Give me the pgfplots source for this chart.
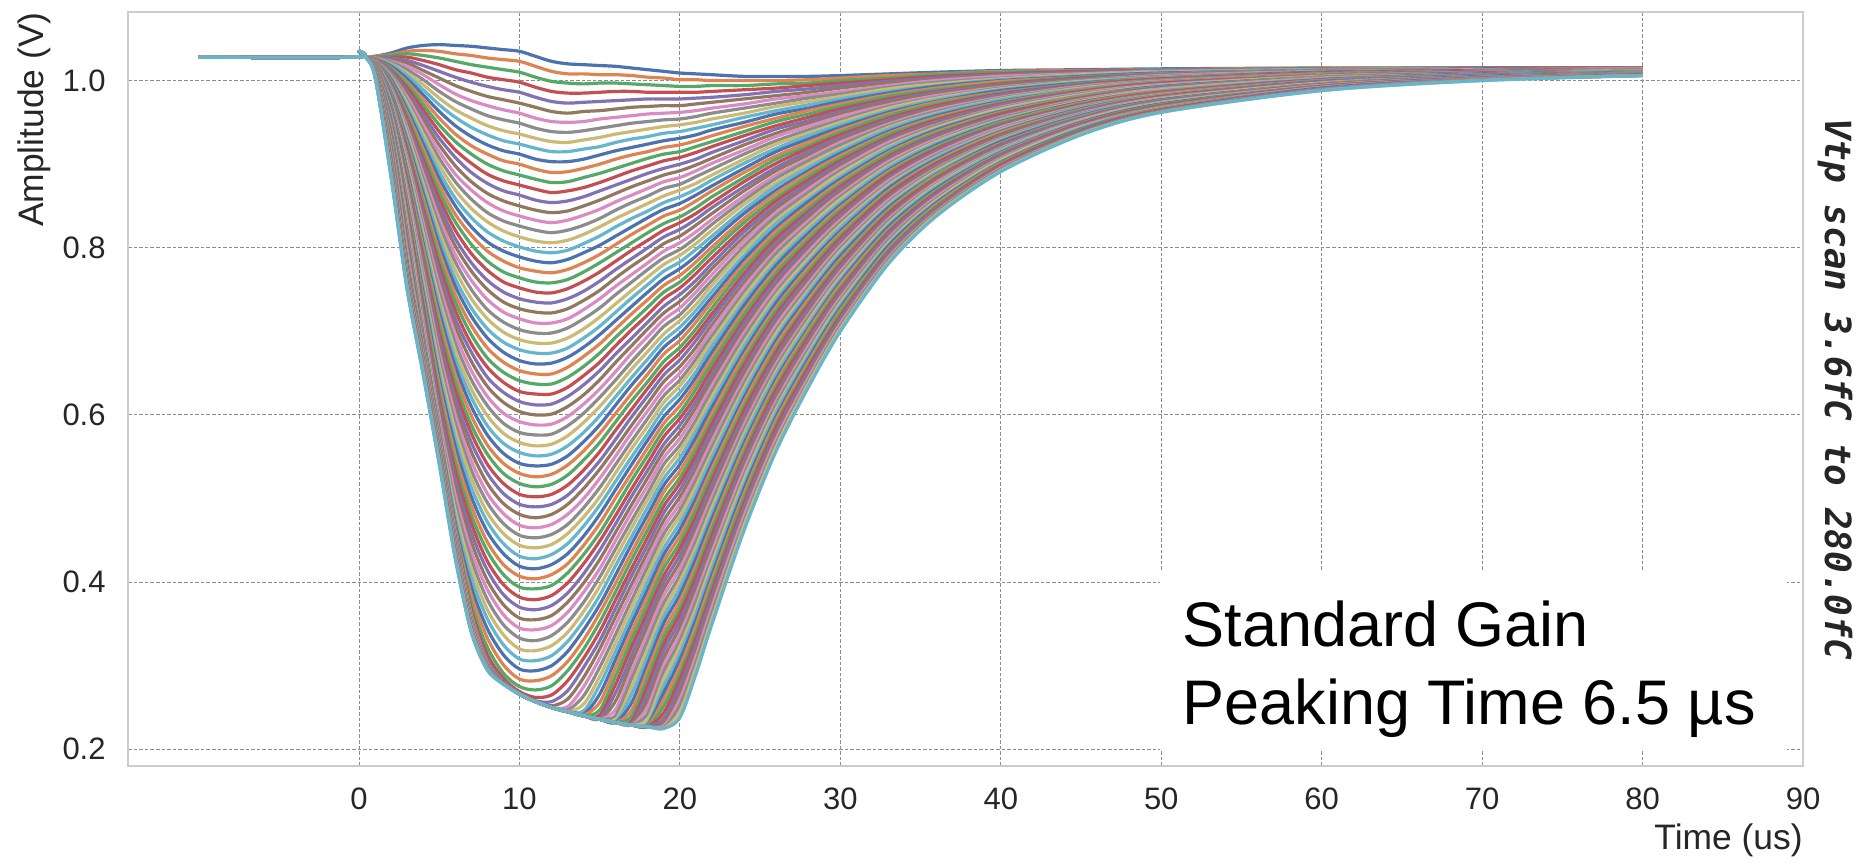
\documentclass[border=0pt]{standalone}
\usepackage{fontspec}
\setmainfont{Liberation Sans}
\setmonofont{DejaVu Sans Mono}
\usepackage{pgfplots}
\usepackage{pgfplotstable}
\pgfplotsset{compat=1.18}
\definecolor{c0}{RGB}{76,114,176}
\definecolor{c1}{RGB}{221,132,82}
\definecolor{c2}{RGB}{85,168,104}
\definecolor{c3}{RGB}{196,78,82}
\definecolor{c4}{RGB}{129,114,179}
\definecolor{c5}{RGB}{147,120,96}
\definecolor{c6}{RGB}{218,139,195}
\definecolor{c7}{RGB}{140,140,140}
\definecolor{c8}{RGB}{204,185,116}
\definecolor{c9}{RGB}{100,181,205}
\definecolor{tickgray}{RGB}{38,38,38}
\definecolor{gridgray}{RGB}{140,140,140}
\definecolor{framegray}{RGB}{204,204,204}
\begin{document}
% time (us) followed by 100 curves, amplitude in mV
\pgfplotstableread[header=false]{
-10 1028 1028 1028 1028 1028 1028 1028 1028 1028 1028  1028 1028 1028 1028 1028 1028 1028 1028 1028 1028  1028 1028 1028 1028 1028 1028 1028 1028 1028 1028  1028 1028 1028 1028 1028 1028 1028 1028 1028 1028  1028 1028 1028 1028 1028 1028 1028 1028 1028 1028  1028 1028 1028 1028 1028 1028 1028 1028 1028 1028  1028 1028 1028 1028 1028 1028 1028 1028 1028 1028  1028 1028 1028 1028 1028 1028 1028 1028 1028 1028  1028 1028 1028 1028 1028 1028 1028 1028 1028 1028  1028 1028 1028 1028 1028 1028 1028 1028 1028 1028
-0.3 1028 1028 1028 1028 1028 1028 1028 1028 1028 1028  1028 1028 1028 1028 1028 1028 1028 1028 1028 1028  1028 1028 1028 1028 1028 1028 1028 1028 1028 1028  1028 1028 1028 1028 1028 1028 1028 1028 1028 1028  1028 1028 1028 1028 1028 1028 1028 1028 1028 1028  1028 1028 1028 1028 1028 1028 1028 1028 1028 1028  1028 1028 1028 1028 1028 1028 1028 1028 1028 1028  1028 1028 1028 1028 1028 1028 1028 1028 1028 1028  1028 1028 1028 1028 1028 1028 1028 1028 1028 1028  1028 1028 1028 1028 1028 1028 1028 1028 1028 1028
0 1035 1035 1035 1035 1035 1035 1035 1035 1035 1035  1035 1035 1035 1035 1035 1035 1035 1035 1035 1035  1035 1035 1035 1035 1035 1035 1035 1035 1035 1035  1035 1035 1035 1035 1035 1035 1035 1035 1035 1035  1035 1035 1035 1035 1035 1035 1035 1035 1035 1035  1035 1035 1035 1035 1035 1035 1035 1035 1035 1035  1035 1035 1035 1035 1035 1035 1035 1035 1035 1035  1035 1035 1035 1035 1035 1035 1035 1035 1035 1035  1035 1035 1035 1035 1035 1035 1035 1035 1035 1035  1035 1035 1035 1035 1035 1035 1035 1035 1035 1035
0.4 1028 1028 1028 1028 1028 1028 1028 1028 1028 1028  1028 1028 1028 1028 1028 1028 1028 1028 1028 1028  1028 1028 1028 1028 1028 1028 1028 1028 1028 1028  1028 1028 1028 1028 1028 1028 1028 1028 1028 1028  1028 1028 1028 1028 1028 1028 1028 1028 1028 1028  1028 1028 1028 1028 1028 1028 1028 1028 1028 1028  1028 1028 1028 1028 1028 1028 1028 1028 1028 1028  1028 1028 1028 1028 1028 1028 1028 1028 1028 1028  1028 1028 1028 1028 1028 1028 1028 1028 1028 1028  1028 1028 1028 1028 1028 1028 1028 1028 1028 1028
1 1029 1029 1028 1028 1028 1028 1027 1027 1027 1027  1026 1026 1026 1026 1025 1025 1025 1025 1024 1024  1024 1024 1023 1023 1023 1023 1022 1022 1022 1022  1021 1021 1021 1021 1020 1020 1020 1020 1019 1019  1019 1019 1018 1018 1018 1018 1017 1017 1017 1017  1016 1016 1016 1016 1015 1015 1015 1015 1014 1014  1014 1014 1013 1013 1013 1013 1012 1012 1012 1012  1011 1011 1011 1011 1010 1010 1010 1010 1009 1009  1009 1009 1008 1008 1008 1008 1007 1007 1007 1007  1006 1006 1006 1006 1005 1005 1005 1005 1004 1004
2 1033 1031 1030 1028 1027 1025 1023 1022 1020 1019  1017 1015 1014 1012 1011 1009 1007 1006 1004 1003  1001 999 998 996 995 993 991 990 988 987  985 983 982 980 979 977 975 974 972 971  969 967 966 964 963 961 959 958 956 955  953 951 950 948 947 945 943 942 940 939  937 935 934 932 930 929 927 926 924 922  921 919 918 916 915 913 912 910 909 907  906 904 903 901 900 899 897 896 895 894  893 892 891 890 889 888 887 886 885 884
3 1039 1035 1032 1028 1024 1021 1017 1013 1009 1006  1002 998 995 991 987 984 980 976 973 969  965 961 958 954 950 947 943 939 936 932  928 924 921 917 913 910 906 902 899 895  891 887 884 880 876 873 869 865 862 858  854 851 847 843 839 836 832 828 825 821  817 814 810 806 803 799 796 792 789 786  783 780 778 776 774 772 770 769 768 767  766 765 764 763 762 761 760 760 759 758  757 756 756 755 754 753 752 752 751 750
4 1042 1036 1030 1024 1018 1012 1007 1001 995 989  983 977 971 965 959 953 947 941 936 930  924 918 912 906 900 894 888 882 876 871  865 859 853 847 841 835 829 823 817 811  805 800 794 788 782 776 770 764 758 752  746 740 735 729 723 717 711 706 701 697  693 690 687 685 684 682 681 680 679 678  677 676 675 674 673 672 671 670 669 668  667 666 665 664 663 662 661 660 659 658  657 656 655 654 653 652 651 650 649 648
5 1043 1035 1027 1019 1011 1003 995 987 979 971  963 955 947 939 931 923 915 907 899 891  883 875 867 859 851 843 835 827 819 811  803 795 787 779 771 763 755 747 739 731  723 715 707 699 691 683 675 667 659 651  643 635 627 619 611 603 596 590 586 583  581 579 578 577 576 575 574 573 572 571  570 569 568 567 566 565 564 563 562 561  560 559 558 557 556 555 554 553 552 551  550 549 548 547 546 545 544 543 542 541
6 1042 1032 1023 1013 1004 994 984 975 965 956  946 936 927 917 908 898 888 879 869 859  850 840 831 821 811 802 792 783 773 763  754 744 735 725 715 706 696 686 677 667  658 648 638 629 619 610 600 590 581 571  562 552 542 533 523 514 504 494 485 477  470 465 462 461 460 459 458 457 456 455  454 453 452 451 450 450 449 448 447 446  445 444 443 442 442 441 440 439 438 437  436 435 434 433 432 432 431 430 429 428
7 1041 1030 1019 1009 998 987 976 966 955 944  933 922 912 901 890 879 869 858 847 836  825 815 804 793 782 772 761 750 739 728  718 707 696 685 675 664 653 642 631 621  610 599 588 578 567 556 545 534 524 513  502 491 480 470 459 448 437 427 416 405  394 384 374 367 363 361 360 359 359 358  357 357 356 356 355 354 354 353 353 352  351 351 350 350 349 348 348 347 347 346  345 345 344 344 343 342 342 341 341 340
8 1039 1027 1016 1004 993 981 970 958 946 935  923 912 900 888 877 865 854 842 831 819  807 796 784 773 761 750 738 726 715 703  692 680 668 657 645 634 622 611 599 587  576 564 553 541 530 518 506 495 483 472  460 448 437 425 414 402 391 379 367 356  344 333 322 313 307 304 303 303 303 302  302 302 302 301 301 301 301 300 300 300  300 299 299 299 299 298 298 298 298 297  297 297 297 296 296 296 296 295 295 295
9 1037 1025 1013 1001 989 977 965 953 940 928  916 904 892 880 868 856 844 832 820 808  796 784 771 759 747 735 723 711 699 687  675 663 651 639 627 615 602 590 578 566  554 542 530 518 506 494 482 470 458 446  434 421 409 397 385 373 361 349 337 325  313 301 291 285 282 282 281 281 281 281  281 281 281 281 280 280 280 280 280 280  280 280 280 280 279 279 279 279 279 279  279 279 279 279 279 278 278 278 278 278
10 1035 1023 1010 998 986 973 961 949 936 924  912 900 887 875 863 850 838 826 813 801  789 776 764 752 739 727 715 702 690 678  665 653 641 628 616 604 592 579 567 555  542 530 518 505 493 481 468 456 444 431  419 407 394 382 370 357 345 333 320 308  296 284 275 269 267 266 266 266 266 266  266 266 266 266 266 266 266 266 266 266  266 266 266 266 266 266 266 266 266 266  266 266 266 266 266 266 266 266 266 266
11 1029 1017 1004 992 980 968 955 943 931 919  906 894 882 870 857 845 833 821 808 796  784 772 759 747 735 723 710 698 686 674  661 649 637 625 612 600 588 576 563 551  539 526 514 502 490 477 465 453 441 428  416 404 392 379 367 355 343 330 318 306  294 282 271 262 258 257 257 257 257 257  257 257 257 257 257 257 257 257 257 257  257 257 257 257 257 257 257 257 257 257  257 257 257 257 257 257 257 257 257 257
12 1023 1011 999 987 975 963 951 939 927 915  903 890 878 866 854 842 830 818 806 794  782 770 758 746 734 722 710 698 686 674  662 649 637 625 613 601 589 577 565 553  541 529 517 505 493 481 469 457 445 433  421 409 396 384 372 360 348 336 324 312  300 288 276 265 257 252 250 250 250 250  250 250 250 250 250 250 250 250 250 250  250 250 250 250 250 250 250 250 250 250  250 250 250 250 250 250 250 250 250 250
13 1020 1008 997 985 973 961 950 938 926 915  903 891 879 868 856 844 833 821 809 797  786 774 762 751 739 727 715 704 692 680  669 657 645 633 622 610 598 587 575 563  551 540 528 516 504 493 481 469 458 446  434 422 411 399 387 376 364 352 340 329  317 305 294 282 270 260 251 247 245 245  245 245 245 245 245 245 245 245 245 245  245 245 245 245 245 245 245 245 245 245  245 245 245 245 245 245 245 245 245 245
14 1019 1008 996 985 974 963 951 940 929 918  906 895 884 872 861 850 839 827 816 805  794 782 771 760 748 737 726 715 703 692  681 670 658 647 636 624 613 602 591 579  568 557 546 534 523 512 500 489 478 467  455 444 433 422 410 399 388 376 365 354  343 331 320 309 298 286 275 264 254 246  242 241 240 240 240 240 240 240 240 240  240 240 240 240 240 240 240 240 240 240  240 240 240 240 240 240 240 240 240 240
15 1018 1007 997 986 975 964 954 943 932 921  911 900 889 878 868 857 846 835 825 814  803 792 782 771 760 749 739 728 717 706  696 685 674 663 653 642 631 621 610 599  588 578 567 556 545 535 524 513 502 492  481 470 459 449 438 427 416 406 395 384  373 363 352 341 330 320 309 298 287 277  266 256 247 241 237 236 236 236 236 236  236 236 236 236 236 236 236 236 236 236  236 236 236 236 236 236 236 236 236 236
16 1017 1007 997 987 976 966 956 946 936 926  916 906 895 885 875 865 855 845 835 825  814 804 794 784 774 764 754 744 733 723  713 703 693 683 673 663 652 642 632 622  612 602 592 582 571 561 551 541 531 521  511 501 490 480 470 460 450 440 430 420  409 399 389 379 369 359 349 338 328 318  308 298 288 278 268 258 248 241 235 233  232 232 232 232 232 232 232 232 232 232  232 232 232 232 232 232 232 232 232 232
17 1015 1006 996 987 977 968 958 949 939 930  920 911 901 892 882 873 863 854 844 835  825 816 806 797 787 778 768 759 749 740  730 721 711 702 692 683 674 664 655 645  636 626 617 607 598 588 579 569 560 550  541 531 522 512 503 493 484 474 465 455  446 436 427 417 408 398 389 379 370 360  351 341 332 323 313 304 294 285 275 266  256 247 240 234 231 230 229 229 229 229  229 229 229 229 229 229 229 229 229 229
18 1013 1004 995 986 978 969 960 951 942 933  924 915 907 898 889 880 871 862 853 844  836 827 818 809 800 791 782 774 765 756  747 738 729 720 711 703 694 685 676 667  658 649 640 632 623 614 605 596 587 578  570 561 552 543 534 525 516 507 499 490  481 472 463 454 445 436 428 419 410 401  392 383 374 365 357 348 339 330 321 312  303 295 286 277 268 259 251 243 236 231  229 228 227 227 227 227 227 227 227 227
19 1011 1003 994 986 978 970 961 953 945 937  928 920 912 904 895 887 879 871 862 854  846 838 829 821 813 805 796 788 780 772  763 755 747 739 730 722 714 706 697 689  681 673 664 656 648 640 631 623 615 607  598 590 582 574 565 557 549 541 532 524  516 508 499 491 483 474 466 458 450 441  433 425 417 408 400 392 384 375 367 359  351 342 334 326 318 309 301 293 285 276  268 260 252 244 237 232 228 226 225 225
20 1009 1001 993 986 978 970 962 954 947 939  931 923 915 908 900 892 884 876 869 861  853 845 837 830 822 814 806 798 791 783  775 767 759 752 744 736 728 720 713 705  697 689 681 674 666 658 650 642 635 627  619 611 603 596 588 580 572 564 557 549  541 533 525 518 510 502 494 486 479 471  463 455 447 440 432 424 416 408 401 393  385 377 369 362 354 346 338 330 323 315  307 299 291 284 276 268 260 253 245 238
21 1008 1001 993 986 979 972 964 957 950 943  935 928 921 914 906 899 892 885 877 870  863 856 848 841 834 827 819 812 805 798  790 783 776 769 761 754 747 740 732 725  718 711 703 696 689 681 674 667 660 652  645 638 631 623 616 609 602 594 587 580  573 565 558 551 544 536 529 522 515 507  500 493 486 478 471 464 457 449 442 435  428 420 413 406 398 391 384 377 369 362  355 348 340 333 326 319 311 304 297 290
22 1007 1000 994 987 980 974 967 961 954 947  941 934 927 921 914 907 901 894 887 881  874 868 861 854 848 841 834 828 821 814  808 801 795 788 781 775 768 761 755 748  741 735 728 721 715 708 702 695 688 682  675 668 662 655 648 642 635 629 622 615  609 602 595 589 582 575 569 562 555 549  542 536 529 522 516 509 502 496 489 482  476 469 463 456 449 443 436 429 423 416  409 403 396 389 383 376 370 363 356 350
24 1005 1000 994 989 983 978 972 967 961 956  950 945 939 934 928 923 917 912 906 901  895 890 884 879 873 868 862 857 852 846  841 835 830 824 819 813 808 802 797 791  786 780 775 769 764 758 753 747 742 736  731 725 720 714 709 703 698 693 687 682  676 671 665 660 654 649 643 638 632 627  621 616 610 605 599 594 588 583 577 572  566 561 555 550 545 539 534 528 523 517  512 506 501 495 490 484 479 473 468 462
26 1005 1000 996 991 987 982 978 973 969 964  960 955 951 946 942 937 933 928 924 919  915 910 906 901 896 892 887 883 878 874  869 865 860 856 851 847 842 838 833 829  824 820 815 811 806 802 797 793 788 783  779 774 770 765 761 756 752 747 743 738  734 729 725 720 716 711 707 702 698 693  689 684 679 675 670 666 661 657 652 648  643 639 634 630 625 621 616 612 607 603  598 594 589 585 580 576 571 566 562 557
28 1005 1001 997 994 990 986 982 979 975 971  967 964 960 956 952 949 945 941 937 934  930 926 922 919 915 911 907 904 900 896  892 889 885 881 877 873 870 866 862 858  855 851 847 843 840 836 832 828 825 821  817 813 810 806 802 798 795 791 787 783  780 776 772 768 764 761 757 753 749 746  742 738 734 731 727 723 719 716 712 708  704 701 697 693 689 686 682 678 674 671  667 663 659 656 652 648 644 640 637 633
30 1006 1003 1000 997 994 991 987 984 981 978  975 972 969 966 963 960 957 953 950 947  944 941 938 935 932 929 926 923 919 916  913 910 907 904 901 898 895 892 889 885  882 879 876 873 870 867 864 861 858 854  851 848 845 842 839 836 833 830 827 824  820 817 814 811 808 805 802 799 796 793  790 786 783 780 777 774 771 768 765 762  759 756 752 749 746 743 740 737 734 731  728 725 722 718 715 712 709 706 703 700
33 1008 1006 1003 1001 999 997 994 992 990 987  985 983 981 978 976 974 971 969 967 964  962 960 958 955 953 951 948 946 944 942  939 937 935 932 930 928 926 923 921 919  916 914 912 909 907 905 903 900 898 896  893 891 889 887 884 882 880 877 875 873  871 868 866 864 861 859 857 854 852 850  848 845 843 841 838 836 834 832 829 827  825 822 820 818 816 813 811 809 806 804  802 799 797 795 793 790 788 786 783 781
36 1010 1008 1007 1005 1003 1001 1000 998 996 994  993 991 989 987 986 984 982 980 979 977  975 974 972 970 968 967 965 963 961 960  958 956 954 953 951 949 947 946 944 942  941 939 937 935 934 932 930 928 927 925  923 921 920 918 916 914 913 911 909 908  906 904 902 901 899 897 895 894 892 890  888 887 885 883 881 880 878 876 875 873  871 869 868 866 864 862 861 859 857 855  854 852 850 848 847 845 843 842 840 838
40 1012 1011 1010 1008 1007 1006 1005 1003 1002 1001  1000 999 997 996 995 994 992 991 990 989  988 986 985 984 983 981 980 979 978 977  975 974 973 972 971 969 968 967 966 964  963 962 961 960 958 957 956 955 953 952  951 950 949 947 946 945 944 942 941 940  939 938 936 935 934 933 931 930 929 928  927 925 924 923 922 920 919 918 917 916  914 913 912 911 910 908 907 906 905 903  902 901 900 899 897 896 895 894 892 891
45 1013 1012 1011 1011 1010 1009 1008 1007 1007 1006  1005 1004 1004 1003 1002 1001 1000 1000 999 998  997 996 996 995 994 993 993 992 991 990  989 989 988 987 986 985 985 984 983 982  981 981 980 979 978 978 977 976 975 974  974 973 972 971 970 970 969 968 967 967  966 965 964 963 963 962 961 960 959 959  958 957 956 955 955 954 953 952 952 951  950 949 948 948 947 946 945 944 944 943  942 941 941 940 939 938 937 937 936 935
50 1014 1013 1013 1012 1012 1011 1011 1010 1010 1009  1009 1008 1008 1007 1007 1006 1006 1005 1004 1004  1003 1003 1002 1002 1001 1001 1000 1000 999 999  998 998 997 997 996 995 995 994 994 993  993 992 992 991 991 990 990 989 989 988  987 987 986 986 985 985 984 984 983 983  982 982 981 981 980 980 979 978 978 977  977 976 976 975 975 974 974 973 973 972  972 971 971 970 969 969 968 968 967 967  966 966 965 965 964 964 963 963 962 962
60 1015 1015 1014 1014 1014 1014 1013 1013 1013 1013  1012 1012 1012 1011 1011 1011 1011 1010 1010 1010  1010 1009 1009 1009 1008 1008 1008 1008 1007 1007  1007 1007 1006 1006 1006 1006 1005 1005 1005 1004  1004 1004 1004 1003 1003 1003 1003 1002 1002 1002  1001 1001 1001 1001 1000 1000 1000 1000 999 999  999 998 998 998 998 997 997 997 997 996  996 996 995 995 995 995 994 994 994 994  993 993 993 993 992 992 992 991 991 991  991 990 990 990 990 989 989 989 988 988
70 1015 1015 1015 1015 1014 1014 1014 1014 1014 1014  1014 1013 1013 1013 1013 1013 1013 1012 1012 1012  1012 1012 1012 1012 1011 1011 1011 1011 1011 1011  1011 1010 1010 1010 1010 1010 1010 1010 1009 1009  1009 1009 1009 1009 1008 1008 1008 1008 1008 1008  1008 1007 1007 1007 1007 1007 1007 1007 1006 1006  1006 1006 1006 1006 1006 1005 1005 1005 1005 1005  1005 1004 1004 1004 1004 1004 1004 1004 1003 1003  1003 1003 1003 1003 1003 1002 1002 1002 1002 1002  1002 1002 1001 1001 1001 1001 1001 1001 1000 1000
80 1015 1015 1015 1015 1015 1015 1014 1014 1014 1014  1014 1014 1014 1014 1014 1014 1014 1013 1013 1013  1013 1013 1013 1013 1013 1013 1013 1013 1012 1012  1012 1012 1012 1012 1012 1012 1012 1012 1012 1011  1011 1011 1011 1011 1011 1011 1011 1011 1011 1011  1010 1010 1010 1010 1010 1010 1010 1010 1010 1010  1010 1009 1009 1009 1009 1009 1009 1009 1009 1009  1009 1009 1008 1008 1008 1008 1008 1008 1008 1008  1008 1008 1008 1007 1007 1007 1007 1007 1007 1007  1007 1007 1007 1007 1006 1006 1006 1006 1006 1006
}\datatable
\begin{tikzpicture}
\begin{axis}[
  scale only axis,
  width=837.5pt, height=377pt,
  xmin=-14.4, xmax=90, ymin=180, ymax=1082,
  xtick={0,10,...,90},
  xticklabels={0,10,20,30,40,50,60,70,80,90},
  ytick={200,400,600,800,1000},
  yticklabels={0.2,0.4,0.6,0.8,1.0},
  major tick length=0pt,
  grid=major,
  major grid style={dash pattern=on 1.8pt off 1pt, line width=0.5pt, draw=gridgray},
  axis line style={draw=framegray, line width=1pt},
  tick label style={font=\fontsize{15.5}{18}\selectfont, text=tickgray, inner sep=0pt},
  xticklabel style={anchor=center, yshift=-16.5pt},
  yticklabel style={anchor=east, xshift=-11pt},
  xlabel={Time (us)},
  ylabel={Amplitude (V)},
  label style={font=\fontsize{17.7}{21}\selectfont, text=tickgray, inner sep=0pt},
  xlabel style={at={(axis description cs:1,-0.0981)}, anchor=east},
  ylabel style={at={(axis description cs:-0.0558,1)}, anchor=east},
  cycle list={{color=c0},{color=c1},{color=c2},{color=c3},{color=c4},{color=c5},{color=c6},{color=c7},{color=c8},{color=c9}},
  every axis plot post/.append style={line width=1.6pt, mark=none, smooth, tension=0.5, line join=round},
]
\pgfplotsinvokeforeach{1,...,100}{
  \addplot table[x index=0, y index=#1] {\datatable};
}
\fill[white] (axis cs:49.9,198) rectangle (axis cs:89,412);
\node[anchor=base west, inner sep=0pt, font=\fontsize{31.5}{38}\selectfont] at (axis cs:51.3,323) {Standard Gain};
\node[anchor=base west, inner sep=0pt, font=\fontsize{31.5}{38}\selectfont] at (axis cs:51.3,230) {Peaking Time 6.5 µs};
\end{axis}
\node[rotate=-90, text=tickgray, inner sep=0pt, font={\ttfamily\bfseries\itshape\fontsize{18}{22}\selectfont}] at (853.5pt,188.5pt) {Vtp scan 3.6fC to 280.0fC};
\path (-64pt,-49pt) rectangle (867pt,383pt);
\end{tikzpicture}
\end{document}
